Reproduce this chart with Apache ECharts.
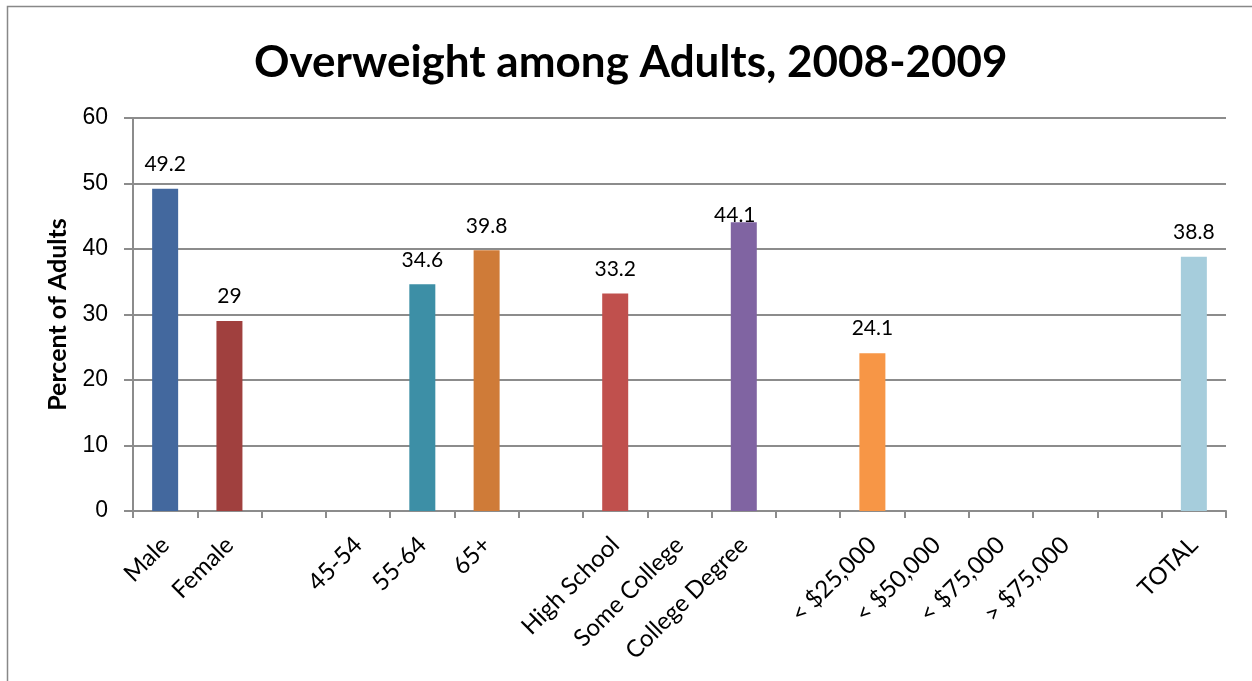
<!DOCTYPE html>
<html>
<head>
<meta charset="utf-8">
<script src="https://cdn.jsdelivr.net/npm/echarts@6/dist/echarts.min.js"></script>
<style>
html,body{margin:0;padding:0;background:#fff;}
#chart{width:1252px;height:681px;}
</style>
</head>
<body>
<div id="chart"></div>
<script>
var categories = ['Male','Female','','45-54','55-64','65+','','High School','Some College','College Degree','','< $25,000','< $50,000','< $75,000','> $75,000','','TOTAL'];
var values = [49.2, 29, null, null, 34.6, 39.8, null, 33.2, null, 44.1, null, 24.1, null, null, null, null, 38.8];
var barColors = ['#43689e','#a0403e','#888','#888','#3d8fa6','#cf7b38','#888','#c0504d','#888','#8064a2','#888','#f79646','#888','#888','#888','#888','#a6cddc'];
var yTicks = {min: 0, max: 60, interval: 10};

var chart = echarts.init(document.getElementById('chart'), null, {renderer: 'canvas'});
var data = values.map(function(v, i){
  var item = {value: v === null ? '-' : v, itemStyle: {color: barColors[i]}};
  if (categories[i] === 'College Degree') {
    // label placed manually on the bar top in the original
    item.label = {distance: -4, offset: [-9, 0]};
  }
  return item;
});
chart.setOption({
  animation: false,
  backgroundColor: '#fff',
  graphic: [{
    type: 'rect', shape: {x: 7.5, y: 6.5, width: 1260, height: 700},
    style: {fill: 'none', stroke: '#888', lineWidth: 1.5}, silent: true
  }],
  title: {
    text: 'Overweight among Adults, 2008-2009',
    left: 249, top: 36,
    textStyle: {fontFamily: 'Lato', fontWeight: 'bold', fontSize: 44, color: '#000'}
  },
  grid: {left: 133, right: 26, top: 118, bottom: 170, containLabel: false},
  xAxis: {
    type: 'category', data: categories,
    axisLine: {lineStyle: {color: '#8c8c8c', width: 2}},
    axisTick: {show: true, length: 7, alignWithLabel: false, interval: 0, lineStyle: {color: '#8c8c8c', width: 2}},
    axisLabel: {interval: 0, rotate: 45, margin: 30, fontFamily: 'Lato', fontSize: 24, color: '#000'}
  },
  yAxis: {
    type: 'value', min: yTicks.min, max: yTicks.max, interval: yTicks.interval,
    name: 'Percent of Adults', nameLocation: 'middle', nameGap: 63,
    nameTextStyle: {fontFamily: 'Lato', fontWeight: 'bold', fontSize: 25, color: '#000'},
    axisLine: {show: true, lineStyle: {color: '#8c8c8c', width: 2}},
    axisTick: {show: true, length: 9, lineStyle: {color: '#8c8c8c', width: 2}},
    axisLabel: {margin: 25, fontFamily: 'Liberation Sans', fontSize: 23, color: '#000'},
    splitLine: {show: true, lineStyle: {color: '#8c8c8c', width: 2}}
  },
  series: [{
    type: 'bar', data: data, barWidth: 26,
    label: {show: true, position: 'top', distance: 14, fontFamily: 'Lato', fontSize: 21, color: '#000'}
  }]
});
</script>
</body>
</html>
